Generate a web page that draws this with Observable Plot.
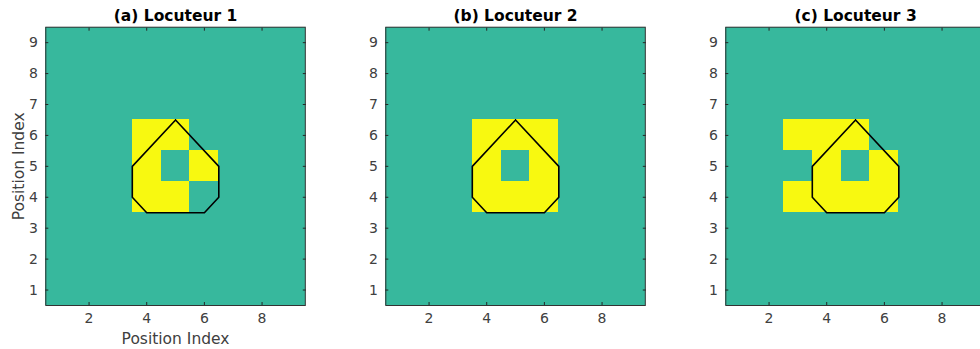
<!DOCTYPE html>
<html>
<head>
<meta charset="utf-8">
<script src="https://cdn.jsdelivr.net/npm/d3@7"></script>
<script src="https://cdn.jsdelivr.net/npm/@observablehq/plot@0.6"></script>
<style>
html, body { margin: 0; padding: 0; background: #fff; overflow: hidden; }
#wrap { position: relative; width: 980px; height: 349px; overflow: hidden; }
#wrap svg { position: absolute; top: 0; }
</style>
</head>
<body>
<div id="wrap"></div>
<script>
// Panel titles
const titles = ["(a) Locuteur 1", "(b) Locuteur 2", "(c) Locuteur 3"];
const axisLabel = "Position Index";
// Tick labels
const xTicks = [2, 4, 6, 8];
const yTicks = [1, 2, 3, 4, 5, 6, 7, 8, 9];
// Grid positions (columns 1..9) and row positions (top row = 9 ... bottom row = 1)
const cols = [1, 2, 3, 4, 5, 6, 7, 8, 9];
const rows = [9, 8, 7, 6, 5, 4, 3, 2, 1];
// Binary maps per speaker (rows listed from y = 9 down to y = 1)
const speaker1 = [
  [0,0,0,0,0,0,0,0,0],
  [0,0,0,0,0,0,0,0,0],
  [0,0,0,0,0,0,0,0,0],
  [0,0,0,1,1,0,0,0,0],
  [0,0,0,1,0,1,0,0,0],
  [0,0,0,1,1,0,0,0,0],
  [0,0,0,0,0,0,0,0,0],
  [0,0,0,0,0,0,0,0,0],
  [0,0,0,0,0,0,0,0,0]
];
const speaker2 = [
  [0,0,0,0,0,0,0,0,0],
  [0,0,0,0,0,0,0,0,0],
  [0,0,0,0,0,0,0,0,0],
  [0,0,0,1,1,1,0,0,0],
  [0,0,0,1,0,1,0,0,0],
  [0,0,0,1,1,1,0,0,0],
  [0,0,0,0,0,0,0,0,0],
  [0,0,0,0,0,0,0,0,0],
  [0,0,0,0,0,0,0,0,0]
];
const speaker3 = [
  [0,0,0,0,0,0,0,0,0],
  [0,0,0,0,0,0,0,0,0],
  [0,0,0,0,0,0,0,0,0],
  [0,0,1,1,1,0,0,0,0],
  [0,0,0,1,0,1,0,0,0],
  [0,0,1,1,1,1,0,0,0],
  [0,0,0,0,0,0,0,0,0],
  [0,0,0,0,0,0,0,0,0],
  [0,0,0,0,0,0,0,0,0]
];
// Reference polygon (same for all panels)
const polyX = [5, 6.5, 6.5, 6, 4, 3.5, 3.5, 5];
const polyY = [6.5, 5, 4, 3.5, 3.5, 4, 5, 6.5];

const maps = [speaker1, speaker2, speaker3];
const teal = "#37b89d";
const yellow = "#f8f910";
const poly = polyX.map((x, i) => ({x, y: polyY[i]}));

const wrap = document.getElementById("wrap");
const panelStep = 340.2;

maps.forEach((m, p) => {
  const cells = [];
  m.forEach((row, r) => row.forEach((v, c) => cells.push({x: cols[c], y: rows[r], v})));
  const extra = p === 0 ? [
    Plot.text([axisLabel], {frameAnchor: "left", dx: -27, rotate: -90, fontSize: 15.5, fill: "#404040", lineAnchor: "middle", textAnchor: "middle"}),
    Plot.text([axisLabel], {frameAnchor: "bottom", dy: 34, fontSize: 15.5, fill: "#404040", lineAnchor: "middle", textAnchor: "middle"})
  ] : [];
  const svg = Plot.plot({
    width: 340,
    height: 349,
    marginLeft: 45.3,
    marginRight: 35.2,
    marginTop: 26.7,
    marginBottom: 44,
    x: {domain: [0.5, 9.5]},
    y: {domain: [0.5, 9.5]},
    color: {type: "ordinal", domain: [0, 1], range: [teal, yellow]},
    style: {fontFamily: "'DejaVu Sans', sans-serif", fontSize: "14px", color: "#404040", background: "transparent", overflow: "visible"},
    marks: [
      Plot.frame({fill: teal}),
      Plot.rect(cells, {x1: d => d.x - 0.5, x2: d => d.x + 0.5, y1: d => d.y - 0.5, y2: d => d.y + 0.5, fill: "v", shapeRendering: "crispEdges"}),
      Plot.line(poly, {x: "x", y: "y", stroke: "black", strokeWidth: 1.6}),
      Plot.frame({stroke: "#333", strokeWidth: 1}),
      Plot.axisX(xTicks, {anchor: "bottom", tickSize: -3, tickFormat: () => "", label: null, stroke: "#262626"}),
      Plot.axisX(xTicks, {anchor: "bottom", tickSize: 0, tickPadding: 8, label: null, fontSize: 14, fill: "#404040"}),
      Plot.axisX(xTicks, {anchor: "top", tickSize: -3, tickFormat: () => "", label: null, stroke: "#262626"}),
      Plot.axisY(yTicks, {anchor: "left", tickSize: -3, tickFormat: () => "", label: null, stroke: "#262626"}),
      Plot.axisY(yTicks, {anchor: "left", tickSize: 0, tickPadding: 8, label: null, fontSize: 14, fill: "#404040"}),
      Plot.axisY(yTicks, {anchor: "right", tickSize: -3, tickFormat: () => "", label: null, stroke: "#262626"}),
      Plot.text([titles[p]], {frameAnchor: "top", dy: -11, fontWeight: "bold", fontSize: 15.5, fill: "#000", lineAnchor: "middle"}),
      ...extra
    ]
  });
  svg.style.left = (p * panelStep) + "px";
  wrap.appendChild(svg);
});
</script>
</body>
</html>
